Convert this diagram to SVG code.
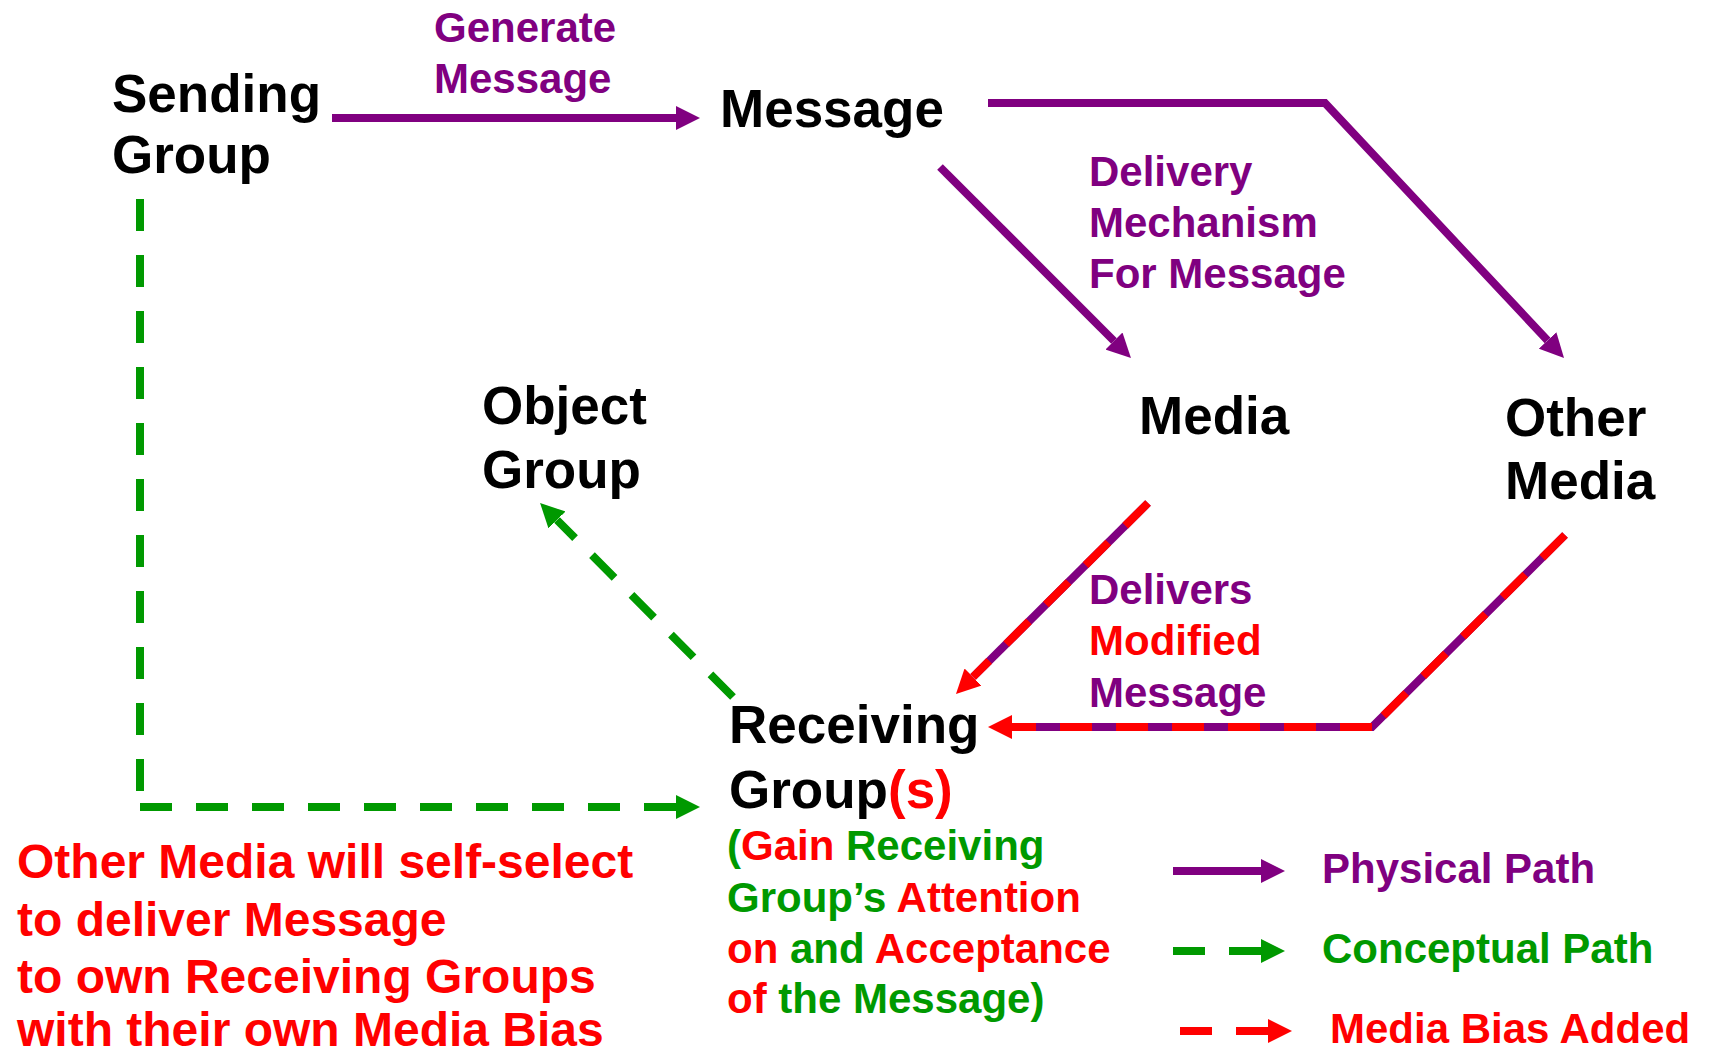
<svg xmlns="http://www.w3.org/2000/svg" width="1714" height="1055" viewBox="0 0 1714 1055">
<style>
text { font-family: "Liberation Sans", Arial, sans-serif; font-weight: bold; }
.node { font-size: 53px; fill: #000; }
.lbl { font-size: 42px; }
.note { font-size: 48px; fill: #FF0000; }
.p { fill: #800080; }
.g { fill: #009900; }
.r { fill: #FF0000; }
.phys { stroke: #800080; stroke-width: 8; fill: none; }
.conc { stroke: #009900; stroke-width: 8; fill: none; stroke-dasharray: 32 24; }
.bias { stroke: #FF0000; stroke-width: 8; fill: none; stroke-dasharray: 32 24; }
</style>
<defs>
<marker id="hp" markerUnits="userSpaceOnUse" markerWidth="24" markerHeight="24" viewBox="0 0 24 24" refX="0" refY="12" orient="auto"><path d="M0,0 L24,12 L0,24 z" fill="#800080"/></marker>
<marker id="hg" markerUnits="userSpaceOnUse" markerWidth="24" markerHeight="24" viewBox="0 0 24 24" refX="0" refY="12" orient="auto"><path d="M0,0 L24,12 L0,24 z" fill="#009900"/></marker>
<marker id="hr" markerUnits="userSpaceOnUse" markerWidth="24" markerHeight="24" viewBox="0 0 24 24" refX="0" refY="12" orient="auto"><path d="M0,0 L24,12 L0,24 z" fill="#FF0000"/></marker>
</defs>
<rect width="1714" height="1055" fill="#fff"/>

<g id="connectors">
  <line class="phys" x1="332" y1="118" x2="676" y2="118" marker-end="url(#hp)"/>
  <path class="phys" d="M988,103 L1325,103 L1547.6,340.5" marker-end="url(#hp)"/>
  <line class="phys" x1="940" y1="167" x2="1114" y2="341" marker-end="url(#hp)"/>
  <line class="phys" x1="1148" y1="503" x2="973" y2="677"/>
  <line class="bias" x1="1148" y1="503" x2="973" y2="677" marker-end="url(#hr)"/>
  <path class="phys" d="M1565,535 L1372,727 L1012,727"/>
  <line class="bias" x1="1565" y1="535" x2="1372" y2="727"/>
  <line class="bias" x1="1372" y1="727" x2="1012" y2="727" marker-end="url(#hr)"/>
  <line class="conc" x1="733" y1="697" x2="557" y2="520" marker-end="url(#hg)"/>
  <line class="conc" x1="140" y1="199" x2="140" y2="791"/>
  <line class="conc" x1="140" y1="807" x2="676" y2="807" marker-end="url(#hg)"/>
</g>

<g id="label-generate">
  <text class="lbl p" x="434" y="42">Generate</text>
  <text class="lbl p" x="434" y="93">Message</text>
</g>
<g id="label-delivery">
  <text class="lbl p" x="1089" y="186">Delivery</text>
  <text class="lbl p" x="1089" y="237">Mechanism</text>
  <text class="lbl p" x="1089" y="288">For Message</text>
</g>
<g id="label-delivers">
  <text class="lbl p" x="1089" y="604">Delivers</text>
  <text class="lbl r" x="1089" y="655">Modified</text>
  <text class="lbl p" x="1089" y="707">Message</text>
</g>

<g id="node-sending">
  <text class="node" x="112" y="112">Sending</text>
  <text class="node" x="112" y="173">Group</text>
</g>
<g id="node-message">
  <text class="node" x="720" y="127">Message</text>
</g>
<g id="node-media">
  <text class="node" x="1139" y="434">Media</text>
</g>
<g id="node-other-media">
  <text class="node" x="1505" y="436">Other</text>
  <text class="node" x="1505" y="499">Media</text>
</g>
<g id="node-object">
  <text class="node" x="482" y="424">Object</text>
  <text class="node" x="482" y="488">Group</text>
</g>
<g id="node-receiving">
  <text class="node" x="729" y="743">Receiving</text>
  <text class="node" x="729" y="808">Group<tspan class="r">(s)</tspan></text>
  <text class="lbl g" x="727" y="860">(<tspan class="r">Gain</tspan> Receiving</text>
  <text class="lbl g" x="727" y="912">Group’s <tspan class="r">Attention</tspan></text>
  <text class="lbl r" x="727" y="963">on <tspan class="g">and</tspan> Acceptance</text>
  <text class="lbl g" x="727" y="1013"><tspan class="r">of</tspan> the Message)</text>
</g>

<g id="note">
  <text class="note" x="17" y="878">Other Media will self-select</text>
  <text class="note" x="17" y="936">to deliver Message</text>
  <text class="note" x="17" y="993">to own Receiving Groups</text>
  <text class="note" x="17" y="1046">with their own Media Bias</text>
</g>

<g id="legend">
  <line class="phys" x1="1173" y1="871" x2="1261" y2="871" marker-end="url(#hp)"/>
  <text class="lbl p" x="1322" y="883">Physical Path</text>
  <line class="conc" x1="1173" y1="951" x2="1261" y2="951" marker-end="url(#hg)"/>
  <text class="lbl g" x="1322" y="963">Conceptual Path</text>
  <line class="bias" x1="1180" y1="1031" x2="1268" y2="1031" marker-end="url(#hr)"/>
  <text class="lbl r" x="1330" y="1043">Media Bias Added</text>
</g>
</svg>
